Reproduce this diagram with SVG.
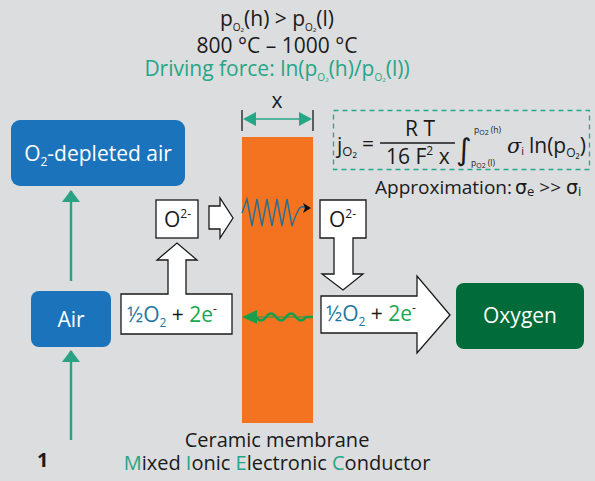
<svg xmlns="http://www.w3.org/2000/svg" width="595" height="481" viewBox="0 0 595 481">
<defs>
<style>
text{font-family:"Open Sans","Noto Sans","Liberation Sans",sans-serif;}
.t{font-size:21px;fill:#1a1a1a;}
.w{fill:#ffffff;font-size:21px;text-anchor:middle;}
.g{fill:#26a685;}
.blue{fill:#1f76a0;}
.eg{fill:#19a84e;}
.out{fill:#ffffff;stroke:#1a1a1a;stroke-width:1.3;}
.flow{stroke:#2ba383;stroke-width:2.4;fill:none;}
.sym{font-family:"DejaVu Serif","Liberation Serif",serif;font-style:italic;}
</style>
<marker id="ah" viewBox="0 0 12 18" refX="11" refY="9" markerWidth="13" markerHeight="18" markerUnits="userSpaceOnUse" orient="auto">
<path d="M0,0 L12,9 L0,18 Z" fill="#2ba383"/>
</marker>
</defs>
<rect width="595" height="481" fill="#dcdddf"/>

<g id="header">
<text x="277" y="26" class="t" text-anchor="middle">p<tspan font-size="10" dy="5">O₂</tspan><tspan dy="-5">(h) &gt; p</tspan><tspan font-size="10" dy="5">O₂</tspan><tspan dy="-5">(l)</tspan></text>
<text x="277" y="53" class="t" text-anchor="middle">800 °C – 1000 °C</text>
<text x="277" y="76" class="t" style="fill:#26a685" text-anchor="middle">Driving force: ln(p<tspan font-size="10" dy="5">O₂</tspan><tspan dy="-5">(h)/p</tspan><tspan font-size="10" dy="5">O₂</tspan><tspan dy="-5">(l))</tspan></text>
</g>

<g id="membrane">
<rect x="242" y="137" width="71" height="286" fill="#f37321"/>
</g>

<g id="dimension">
<line x1="242" y1="110" x2="242" y2="131" stroke="#1a1a1a" stroke-width="1.3"/>
<line x1="313" y1="110" x2="313" y2="131" stroke="#1a1a1a" stroke-width="1.3"/>
<line x1="250" y1="119" x2="305" y2="119" stroke="#26a685" stroke-width="1.5"/>
<path d="M243,119 L256,112 L256,126 Z" fill="#26a685"/>
<path d="M312,119 L299,112 L299,126 Z" fill="#26a685"/>
<text x="277" y="108" class="t" text-anchor="middle">x</text>
</g>

<g id="formula">
<rect x="333.5" y="110.5" width="256" height="59" fill="none" stroke="#26a685" stroke-width="1.3" stroke-dasharray="5,4"/>
<text x="337" y="153" class="t">j<tspan font-size="13" dy="3">O₂</tspan></text>
<text x="362" y="151" class="t" font-size="24">=</text>
<text x="420" y="136" class="t" text-anchor="middle">R  T</text>
<line x1="380" y1="143" x2="455" y2="143" stroke="#1a1a1a" stroke-width="1.3"/>
<text x="386" y="164" class="t">16 F<tspan font-size="12" dy="-9">2</tspan><tspan dy="9"> x</tspan></text>
<text x="456" y="160" style="font-family:'DejaVu Sans',sans-serif;font-size:30px;fill:#1a1a1a">∫</text>
<text x="474" y="133" style="font-size:8.5px;fill:#1a1a1a">p<tspan font-size="7" dy="2">O2</tspan><tspan dy="-2"> (h)</tspan></text>
<text x="471" y="166" style="font-size:8.5px;fill:#1a1a1a">p<tspan font-size="7" dy="2">O2</tspan><tspan dy="-2"> (l)</tspan></text>
<text x="507" y="153" class="t sym" font-size="20">σ<tspan font-size="11" font-style="normal" font-family="Open Sans" dy="2">i</tspan></text>
<text x="529" y="153" class="t">ln(p<tspan font-size="12" dy="4">O₂</tspan><tspan dy="-4">)</tspan></text>
<text x="375" y="194" class="t" style="font-size:19px">Approximation:<tspan font-family="DejaVu Sans" font-size="19" dx="3">σ</tspan><tspan font-size="13" dy="2">e</tspan><tspan dy="-2"> &gt;&gt; </tspan><tspan font-family="DejaVu Sans">σ</tspan><tspan font-size="13" dy="2">i</tspan></text>
</g>

<g id="depleted">
<rect x="11" y="120" width="174" height="66" rx="9" fill="#1b74bb"/>
<text x="98" y="161" class="w">O<tspan font-size="12" dy="5">2</tspan><tspan dy="-5">-depleted air</tspan></text>
</g>

<g id="air">
<rect x="31" y="291" width="80" height="56" rx="8" fill="#1b74bb"/>
<text x="71" y="327" class="w">Air</text>
</g>

<g id="oxygen">
<rect x="456" y="283" width="128" height="66" rx="8" fill="#016b3a"/>
<text x="520" y="323" class="w">Oxygen</text>
</g>

<g id="left-ion">
<rect x="156" y="200" width="42" height="38" class="out"/>
<text x="164" y="227" class="t">O<tspan font-size="12" dy="-9">2-</tspan></text>
</g>

<g id="left-reaction">
<path d="M121,294 L168,294 L168,260 L157,260 L177,243 L197,260 L186,260 L186,294 L232,294 L232,334 L121,334 Z" class="out"/>
<text x="127" y="322" class="t" font-size="22"><tspan class="blue">½O</tspan><tspan class="blue" font-size="12" dy="5">2</tspan><tspan dy="-5"> + </tspan><tspan class="eg">2e</tspan><tspan font-size="12" dy="-9">-</tspan></text>
</g>

<g id="right-ion">
<path d="M320,200 L366,200 L366,238 L353,238 L353,274 L363,274 L343,290 L322,274 L334,274 L334,238 L320,238 Z" class="out"/>
<text x="329" y="227" class="t">O<tspan font-size="12" dy="-9">2-</tspan></text>
</g>

<g id="right-reaction">
<path d="M321,296 L417,296 L417,276 L450,315 L417,353 L417,333 L321,333 Z" class="out"/>
<text x="326" y="321" class="t" font-size="22"><tspan class="blue">½O</tspan><tspan class="blue" font-size="12" dy="5">2</tspan><tspan dy="-5"> + </tspan><tspan class="eg">2e</tspan><tspan font-size="12" dy="-9">-</tspan></text>
</g>

<g id="connectors">
<path d="M209,206 L220,206 L220,198 L233,218 L220,238 L220,229 L209,229 Z" class="out"/>
<line x1="71" y1="281" x2="71" y2="191" class="flow" marker-end="url(#ah)"/>
<line x1="71" y1="440" x2="71" y2="351" class="flow" marker-end="url(#ah)"/>
<path d="M242,213 L247,199 L252,226 L257,199 L262,226 L267,199 L272,226 L277,199 L282,226 L287,199 L292,226 Q296,214 299,209 Q302,205 305,208" fill="none" stroke="#236f94" stroke-width="1.4"/>
<path d="M303,203 L311,208 L303,213 L305,208 Z" fill="#111"/>
<path d="M256,317 Q261,324 266,317 Q271,310 276,317 Q281,324 286,317 Q291,310 296,317 Q301,324 306,317 L313,317" fill="none" stroke="#1c9d4a" stroke-width="2.4"/>
<path d="M242,317 L257,310 L257,324 Z" fill="#1c9d4a"/>
<line x1="255" y1="317" x2="313" y2="317" stroke="#1c9d4a" stroke-width="1"/>
</g>

<g id="footer">
<text x="277" y="447" class="t" text-anchor="middle" style="font-size:20px">Ceramic membrane</text>
<text x="277" y="470" class="t" text-anchor="middle" style="font-size:20px"><tspan class="g">M</tspan>ixed <tspan class="g">I</tspan>onic <tspan class="g">E</tspan>lectronic <tspan class="g">C</tspan>onductor</text>
<text x="37" y="467" class="t" style="font-weight:bold;font-size:20px">1</text>
</g>
</svg>
